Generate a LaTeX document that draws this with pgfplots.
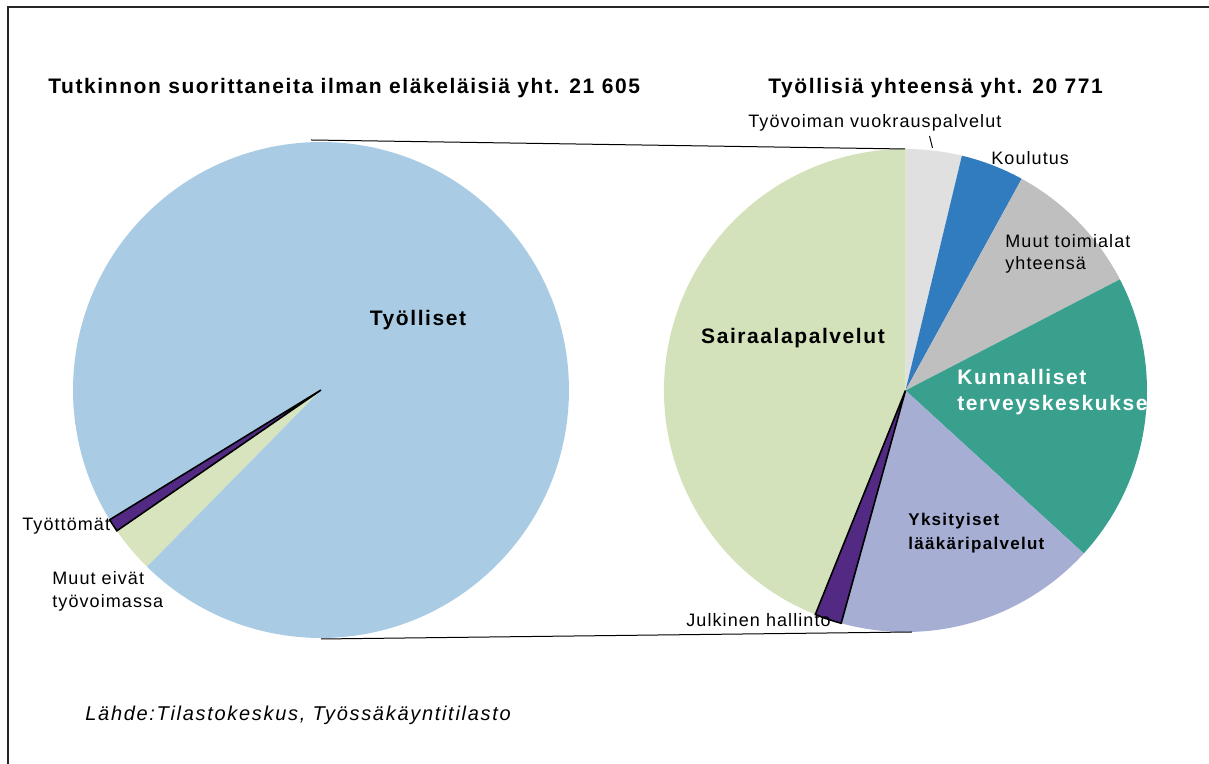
\documentclass[border=0pt]{standalone}
\usepackage{fontspec}
\setmainfont{Liberation Sans}[LetterSpace=6]
\newfontfamily\boldfam{Liberation Sans}[LetterSpace=7.5]
\newfontfamily\srcfam{Liberation Sans}[LetterSpace=8.5]
\usepackage{pgfplots}
\usepackage{pgfplotstable}
\pgfplotsset{compat=1.18}

\definecolor{cTyolliset}{RGB}{169,204,228}
\definecolor{cMuut}{RGB}{215,228,189}
\definecolor{cPurple}{RGB}{82,42,132}
\definecolor{cVuokra}{RGB}{224,224,224}
\definecolor{cKoulutus}{RGB}{48,124,190}
\definecolor{cToimialat}{RGB}{191,191,191}
\definecolor{cKunnall}{RGB}{57,160,142}
\definecolor{cYksit}{RGB}{166,174,212}
\definecolor{cSairaala}{RGB}{211,226,186}

% left pie, counter-clockwise from the small slices
\pgfplotstableread{
label value color outline
Tyottomat 183 cPurple 1
MuutEivat 651 cMuut 0
Tyolliset 20771 cTyolliset 0
}\pieL

% right pie, clockwise from 12 o'clock
\pgfplotstableread{
label value color outline
Vuokraus 779 cVuokra 0
Koulutus 881 cKoulutus 0
MuutToimialat 1952 cToimialat 0
Kunnalliset 4030 cKunnall 0
Yksityiset 3635 cYksit 0
Julkinen 374 cPurple 1
Sairaala 9120 cSairaala 0
}\pieR

\tikzset{
  lbl/.style={inner sep=0pt, font=\fontsize{9}{11}\selectfont},
  blbl/.style={inner sep=0pt, font=\fontsize{10.5}{13}\selectfont\boldfam\bfseries},
}

\begin{document}
\begin{tikzpicture}
\begin{axis}[
  x=0.5pt, y=0.5pt,
  xmin=0, xmax=1209, ymin=0, ymax=764,
  scale only axis, hide axis, clip=false,
]
\coordinate (bl) at (rel axis cs:0,0);
\coordinate (tr) at (rel axis cs:1,1);

% frame
\addplot[black!85, line width=0.8pt] coordinates {(8,0) (8,757) (1209,757)};

% left pie
\xdef\acc{211.55}
\xdef\outlineL{}
\pgfplotsinvokeforeach{0,1,2}{%
  \pgfplotstablegetelem{#1}{value}\of\pieL \let\pv\pgfplotsretval
  \pgfplotstablegetelem{#1}{color}\of\pieL \let\pc\pgfplotsretval
  \pgfplotstablegetelem{#1}{outline}\of\pieL \let\po\pgfplotsretval
  \edef\pb{\fpeval{round(\acc+\pv*360/21605,3)}}
  \edef\temp{\noexpand\fill[\pc] (axis cs:321,374) -- ++(\acc:124pt)
    arc[start angle=\acc, end angle=\pb, radius=124pt] -- cycle;}
  \temp
  \ifnum\po=1
    \xdef\outlineL{\noexpand\draw[black, line width=0.8pt, line join=miter]
      (axis cs:321,374) -- ++(\acc:124pt)
      arc[start angle=\acc, end angle=\pb, radius=124pt] -- cycle;}
  \fi
  \xdef\acc{\pb}
}
\outlineL

% right pie
\xdef\acc{90}
\xdef\outlineR{}
\pgfplotsinvokeforeach{0,...,6}{%
  \pgfplotstablegetelem{#1}{value}\of\pieR \let\pv\pgfplotsretval
  \pgfplotstablegetelem{#1}{color}\of\pieR \let\pc\pgfplotsretval
  \pgfplotstablegetelem{#1}{outline}\of\pieR \let\po\pgfplotsretval
  \edef\pb{\fpeval{round(\acc-\pv*360/20771,3)}}
  \edef\temp{\noexpand\fill[\pc] (axis cs:905.5,373.5) -- ++(\acc:120.75pt)
    arc[start angle=\acc, end angle=\pb, radius=120.75pt] -- cycle;}
  \temp
  \ifnum\po=1
    \xdef\outlineR{\noexpand\draw[black, line width=0.8pt, line join=miter]
      (axis cs:905.5,373.5) -- ++(\acc:120.75pt)
      arc[start angle=\acc, end angle=\pb, radius=120.75pt] -- cycle;}
  \fi
  \xdef\acc{\pb}
}
\outlineR

% connector lines
\addplot[black, line width=0.5pt] coordinates {(311,624) (905,615)};
\addplot[black, line width=0.5pt] coordinates {(321,125) (912,132)};
% leader line
\addplot[black, line width=0.5pt] coordinates {(929.5,628) (932.5,616)};

% titles
\node[blbl, anchor=base west] at (axis cs:48,670)
  {Tutkinnon suorittaneita ilman eläkeläisiä yht. 21 605};
\node[blbl, anchor=base west] at (axis cs:768,670)
  {Työllisiä yhteensä yht. 20 771};

% left labels
\node[blbl, anchor=base] at (axis cs:418,438) {Työlliset};
\node[lbl, anchor=base west] at (axis cs:22,233) {Työttömät};
\node[lbl, anchor=base west, align=left,
  font=\fontsize{9}{11.5}\selectfont] at (axis cs:52,156)
  {Muut eivät\\työvoimassa};

% right labels
\node[lbl, anchor=base west] at (axis cs:748,636) {Työvoiman vuokrauspalvelut};
\node[lbl, anchor=base west] at (axis cs:991,599) {Koulutus};
\node[lbl, anchor=base west, align=left] at (axis cs:1005,494)
  {Muut toimialat\\yhteensä};
\node[blbl, anchor=base] at (axis cs:793,420) {Sairaalapalvelut};
\begin{scope}
\clip (axis cs:0,0) rectangle (axis cs:1148,764);
\node[blbl, anchor=base west, text=white, align=left] at (axis cs:957,353)
  {Kunnalliset\\terveyskeskukset};
\end{scope}
\node[blbl, anchor=base west, align=left,
  font=\fontsize{8.5}{12}\selectfont\boldfam\bfseries] at (axis cs:908,214)
  {Yksityiset\\lääkäripalvelut};
\node[lbl, anchor=base west] at (axis cs:686,137) {Julkinen hallinto};

% source
\node[anchor=base west, inner sep=0pt,
  font=\fontsize{10}{12}\selectfont\srcfam\itshape]
  at (axis cs:85,43) {Lähde:Tilastokeskus, Työssäkäyntitilasto};
\end{axis}
\pgfresetboundingbox
\path (bl) rectangle (tr);
\end{tikzpicture}
\end{document}
